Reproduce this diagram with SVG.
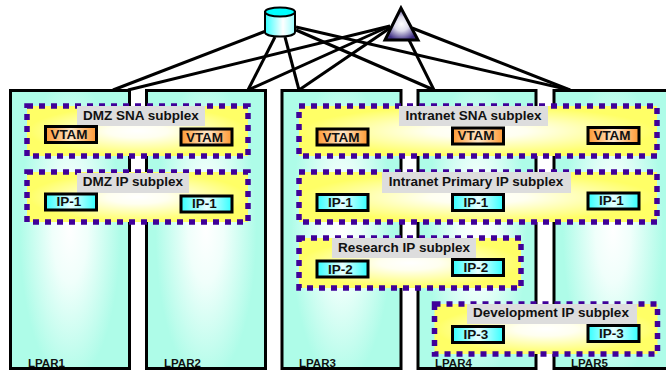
<svg xmlns="http://www.w3.org/2000/svg" width="666" height="371" viewBox="0 0 666 371">
<style>
.lpar{stroke:#000;stroke-width:3;fill:url(#lg)}
.sub{fill:url(#yg);stroke:#400099;stroke-width:5.500;stroke-dasharray:6 6}
.lab{fill:#ddd}
.box{stroke:#000;stroke-width:3}
.v{fill:url(#og)}
.i{fill:url(#cg)}
text{font-family:"Liberation Sans",Arial,sans-serif;font-weight:bold;fill:#111}
.t{font-size:13.500px;text-anchor:middle}
.n{font-size:13.500px;text-anchor:middle}
.l{font-size:11.500px}
.c line{stroke:#000;stroke-width:3}
</style>
<defs>
<radialGradient id="lg" cx=".5" cy=".5" r=".5" gradientTransform="translate(.5 .5) scale(.85 1.100) translate(-.5 -.5)"><stop offset="0" stop-color="#fff"/><stop offset=".35" stop-color="#f0fffb"/><stop offset="1" stop-color="#aefce8"/></radialGradient>
<radialGradient id="yg" cx=".5" cy=".5" r=".55"><stop offset="0" stop-color="#fff"/><stop offset=".25" stop-color="#fffff0"/><stop offset=".9" stop-color="#ffff66"/></radialGradient>
<linearGradient id="og" x1="0" x2="1"><stop offset="0" stop-color="#ff9933"/><stop offset=".5" stop-color="#ffe8c8"/><stop offset="1" stop-color="#ff9933"/></linearGradient>
<linearGradient id="cg" x1="0" x2="1"><stop offset="0" stop-color="#33ffff"/><stop offset=".5" stop-color="#e8ffff"/><stop offset="1" stop-color="#33ffff"/></linearGradient>
<linearGradient id="cy" x1="0" x2="1"><stop offset="0" stop-color="#33ffff"/><stop offset=".6" stop-color="#fff"/><stop offset="1" stop-color="#99ffff"/></linearGradient>
<radialGradient id="tr" cx=".5" cy=".5" r=".55"><stop offset="0" stop-color="#fff"/><stop offset=".4" stop-color="#dedcec"/><stop offset=".95" stop-color="#3f2f85"/></radialGradient>
</defs>
<g class="c" id="connectors">
<line x1="266" y1="31" x2="113" y2="90"/>
<line x1="275" y1="37" x2="248" y2="90"/>
<line x1="285" y1="37" x2="299" y2="90"/>
<line x1="296" y1="30" x2="434" y2="90"/>
<line x1="296" y1="27" x2="570" y2="90"/>
<line x1="390" y1="26" x2="128" y2="90"/>
<line x1="390" y1="26" x2="248" y2="90"/>
<line x1="390" y1="28" x2="299" y2="90"/>
<line x1="408" y1="38" x2="434" y2="90"/>
<line x1="412" y1="28" x2="570" y2="90"/>
</g>
<g id="db"><path d="M265 12V32C265 38 295 38 295 32V12Z" fill="url(#cy)" stroke="#000" stroke-width="2"/><ellipse cx="280" cy="12" rx="15" ry="4.500" fill="#00ffff" stroke="#000" stroke-width="2"/></g>
<g id="tri"><polygon points="401,8 385,40 418,40" fill="url(#tr)" stroke="#000" stroke-width="3"/></g>
<g id="lpar1"><rect class="lpar" x="10.500" y="90.500" width="119" height="278"/><text class="l" x="28" y="367">LPAR1</text></g>
<g id="lpar2"><rect class="lpar" x="146.500" y="90.500" width="119" height="278"/><text class="l" x="164" y="367">LPAR2</text></g>
<g id="lpar3"><rect class="lpar" x="282" y="90.500" width="119" height="278"/><text class="l" x="299" y="367">LPAR3</text></g>
<g id="lpar4"><rect class="lpar" x="418" y="90.500" width="118" height="278"/><text class="l" x="435" y="367">LPAR4</text></g>
<g id="lpar5"><rect class="lpar" x="554" y="90.500" width="118" height="278"/><text class="l" x="571" y="367">LPAR5</text></g>
<g id="dmz-sna"><rect class="sub" x="27" y="106" width="221" height="50"/><rect class="lab" x="77" y="106" width="128" height="20"/><text class="t" x="141" y="120">DMZ SNA subplex</text>
<rect class="box v" x="45.500" y="126.500" width="51" height="16"/><text class="n" x="69" y="139">VTAM</text>
<rect class="box v" x="181" y="129" width="51" height="16"/><text class="n" x="204.500" y="142">VTAM</text></g>
<g id="dmz-ip"><rect class="sub" x="27" y="172" width="221" height="50"/><rect class="lab" x="77" y="173" width="112" height="20"/><text class="t" x="133" y="186">DMZ IP subplex</text>
<rect class="box i" x="45.500" y="194" width="51" height="16"/><text class="n" x="69" y="206">IP-1</text>
<rect class="box i" x="181" y="196" width="51" height="16"/><text class="n" x="204.500" y="208">IP-1</text></g>
<g id="intranet-sna"><rect class="sub" x="299" y="106" width="358" height="50"/><rect class="lab" x="399" y="106" width="149" height="20"/><text class="t" x="473.500" y="120">Intranet SNA subplex</text>
<rect class="box v" x="317" y="129" width="51" height="16"/><text class="n" x="341" y="142">VTAM</text>
<rect class="box v" x="452.500" y="128" width="51" height="16"/><text class="n" x="476" y="140">VTAM</text>
<rect class="box v" x="588" y="127.500" width="51" height="16"/><text class="n" x="612" y="140">VTAM</text></g>
<g id="intranet-ip"><rect class="sub" x="299" y="172" width="358" height="50"/><rect class="lab" x="382" y="172" width="189" height="21"/><text class="t" x="476" y="186">Intranet Primary IP subplex</text>
<rect class="box i" x="317" y="194.500" width="51" height="16"/><text class="n" x="340.500" y="207">IP-1</text>
<rect class="box i" x="452.500" y="194.500" width="51" height="16"/><text class="n" x="476" y="207">IP-1</text>
<rect class="box i" x="588" y="193" width="51" height="16"/><text class="n" x="611.500" y="205">IP-1</text></g>
<g id="research-ip"><rect class="sub" x="299" y="238" width="222" height="50"/><rect class="lab" x="332" y="238" width="144" height="20"/><text class="t" x="404" y="252">Research IP subplex</text>
<rect class="box i" x="317" y="261" width="51" height="16"/><text class="n" x="340.500" y="274">IP-2</text>
<rect class="box i" x="452.500" y="259.500" width="51" height="16"/><text class="n" x="476" y="272">IP-2</text></g>
<g id="dev-ip"><rect class="sub" x="434.500" y="304" width="223" height="50"/><rect class="lab" x="467" y="304" width="170" height="20"/><text class="t" x="551" y="317">Development IP subplex</text>
<rect class="box i" x="452.500" y="326.500" width="51" height="16"/><text class="n" x="476" y="339">IP-3</text>
<rect class="box i" x="588" y="325.500" width="51" height="16"/><text class="n" x="611.500" y="338">IP-3</text></g>
</svg>
